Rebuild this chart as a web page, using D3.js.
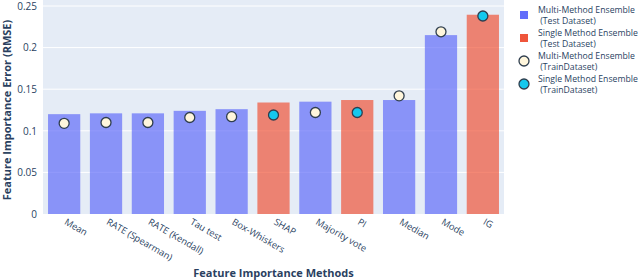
<!DOCTYPE html>
<html>
<head>
<meta charset="utf-8">
<script src="https://cdn.jsdelivr.net/npm/d3@7"></script>
<style>
  body { margin: 0; background: #fff; }
  svg { font-family: "Open Sans", verdana, arial, sans-serif; }
</style>
</head>
<body>
<svg id="chart" width="640" height="280"></svg>
<script>
// data
const methods = ["Mean", "RATE (Spearman)", "RATE (Kendall)", "Tau test", "Box-Whiskers",
  "SHAP", "Majority vote", "PI", "Median", "Mode", "IG"];
const kind = ["multi", "multi", "multi", "multi", "multi",
  "single", "multi", "single", "multi", "multi", "single"];
const testRmse = [0.120, 0.121, 0.121, 0.124, 0.126, 0.134, 0.135, 0.137, 0.137, 0.215, 0.2395];
const trainRmse = [0.109, 0.110, 0.110, 0.116, 0.117, 0.119, 0.122, 0.122, 0.142, 0.219, 0.238];
const yTicks = [0, 0.05, 0.1, 0.15, 0.2, 0.25];

const colorMap = {
  multi: "#636efa",
  single: "#ef553b",
};
const dotMap = {
  multi: "#fff6dc",
  single: "#14c8ee",
};

const svg = d3.select("#chart");
const margin = { left: 43, right: 136, top: 6, bottom: 66 };
const width = 640 - margin.left - margin.right;
const height = 280 - margin.top - margin.bottom;

const x = d3.scaleBand().domain(methods).range([0, width]).paddingInner(0.23).paddingOuter(0.12);
const y = d3.scaleLinear().domain([0, 0.25]).range([height, 0]);

const g = svg.append("g").attr("transform", `translate(${margin.left},${margin.top})`);

// plot background
g.append("rect")
  .attr("x", 0).attr("y", -margin.top)
  .attr("width", width).attr("height", height + margin.top)
  .attr("fill", "#e5ecf6");

// grid
g.append("g")
  .selectAll("line")
  .data(yTicks.slice(1))
  .join("line")
  .attr("x1", 0).attr("x2", width)
  .attr("y1", (d) => y(d)).attr("y2", (d) => y(d))
  .attr("stroke", "#fff").attr("stroke-width", 1);

// y axis labels
const yAxis = g.append("g").call(d3.axisLeft(y).tickValues(yTicks).tickSize(0).tickPadding(6)
  .tickFormat((d) => (d === 0 ? "0" : d3.format("~g")(d))));
yAxis.select(".domain").remove();
yAxis.selectAll("text").attr("fill", "#2a3f5f").attr("font-size", 10)
  .attr("font-family", "'Open Sans', verdana, arial, sans-serif");

// bars
g.append("g")
  .selectAll("rect")
  .data(methods)
  .join("rect")
  .attr("x", (d) => x(d))
  .attr("y", (d, i) => y(testRmse[i]))
  .attr("width", x.bandwidth())
  .attr("height", (d, i) => y(0) - y(testRmse[i]))
  .attr("fill", (d, i) => colorMap[kind[i]])
  .attr("fill-opacity", 0.7);

// train dots
g.append("g")
  .selectAll("circle")
  .data(methods)
  .join("circle")
  .attr("cx", (d) => x(d) + x.bandwidth() / 2)
  .attr("cy", (d, i) => y(trainRmse[i]))
  .attr("r", 5)
  .attr("fill", (d, i) => dotMap[kind[i]])
  .attr("stroke", "#2f3e4e")
  .attr("stroke-width", 1.3);

// x tick labels
g.append("g")
  .selectAll("text")
  .data(methods)
  .join("text")
  .attr("transform", (d) => `translate(${x(d) + x.bandwidth() / 2 + 3},${height + 4}) rotate(30)`)
  .attr("dy", "0.71em")
  .attr("font-size", 9.3)
  .attr("fill", "#2a3f5f")
  .text((d) => d);

// axis titles
svg.append("text")
  .attr("x", margin.left + width / 2)
  .attr("y", 277)
  .attr("text-anchor", "middle")
  .attr("font-size", 11)
  .attr("font-weight", "bold")
  .attr("fill", "#2a3f5f")
  .text("Feature Importance Methods");

svg.append("text")
  .attr("transform", `translate(11,${margin.top + height / 2}) rotate(-90)`)
  .attr("text-anchor", "middle")
  .attr("font-size", 11)
  .attr("font-weight", "bold")
  .attr("fill", "#2a3f5f")
  .text("Feature Importance Error (RMSE)");

// legend
const legendItems = [
  { shape: "rect", color: colorMap.multi, lines: ["Multi-Method Ensemble", " (Test Dataset)"] },
  { shape: "rect", color: colorMap.single, lines: ["Single Method Ensemble", " (Test Dataset)"] },
  { shape: "circle", color: dotMap.multi, lines: ["Multi-Method Ensemble", " (TrainDataset)"] },
  { shape: "circle", color: dotMap.single, lines: ["Single Method Ensemble", " (TrainDataset)"] },
];

const legend = svg.append("g").attr("transform", "translate(524,15)");
const item = legend.selectAll("g")
  .data(legendItems)
  .join("g")
  .attr("transform", (d, i) => `translate(0,${i * 23})`);

item.filter((d) => d.shape === "rect")
  .append("rect")
  .attr("x", -4).attr("y", -4).attr("width", 8).attr("height", 8)
  .attr("fill", (d) => d.color);

item.filter((d) => d.shape === "circle")
  .append("circle")
  .attr("r", 5)
  .attr("fill", (d) => d.color)
  .attr("stroke", "#2f3e4e")
  .attr("stroke-width", 1.3);

item.append("text")
  .attr("x", 14)
  .attr("font-size", 8.7)
  .attr("fill", "#2a3f5f")
  .selectAll("tspan")
  .data((d) => d.lines)
  .join("tspan")
  .attr("x", 14)
  .attr("y", (d, i) => (i === 0 ? -2 : 9))
  .attr("xml:space", "preserve")
  .text((d) => d);
</script>
</body>
</html>
